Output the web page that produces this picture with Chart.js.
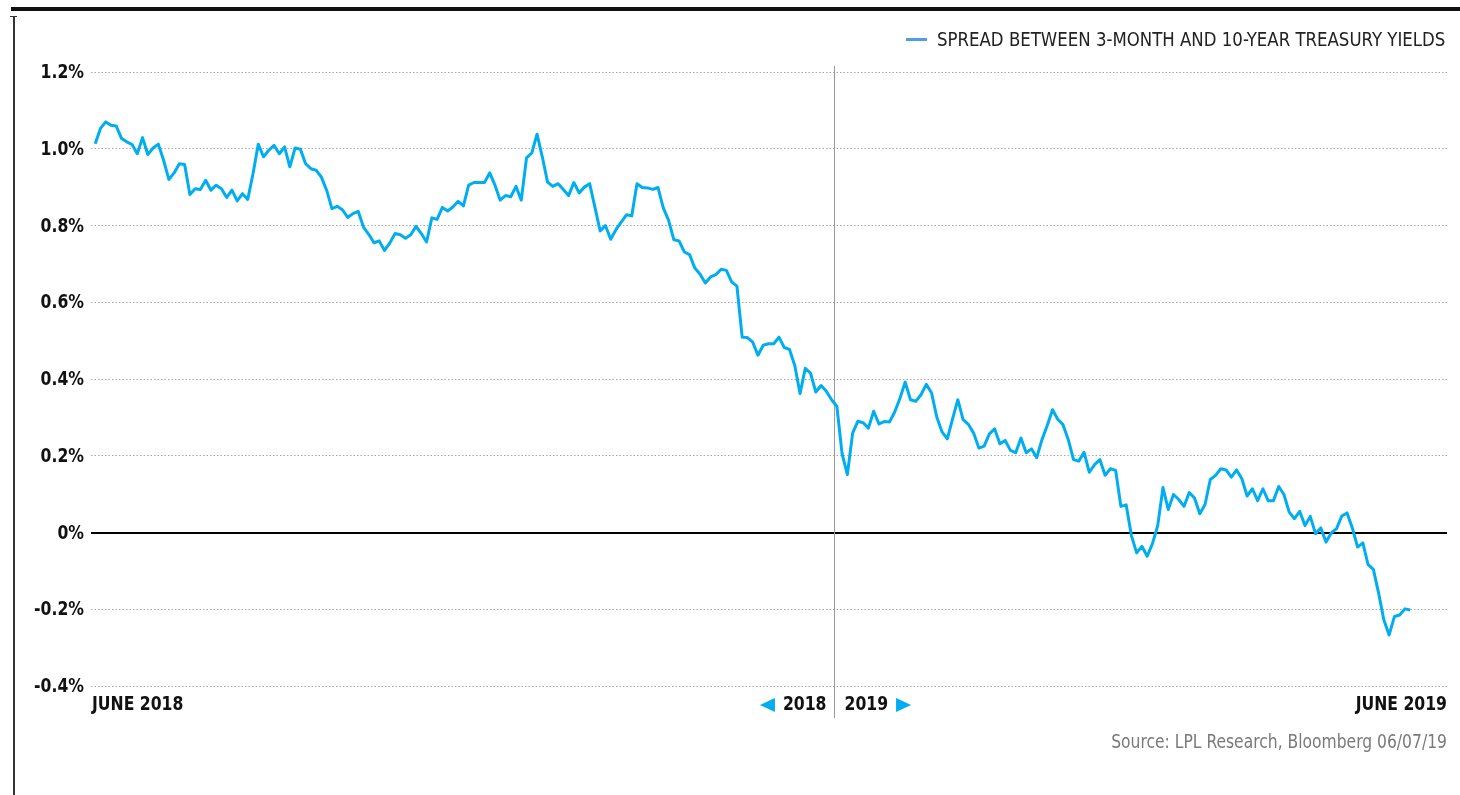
<!DOCTYPE html>
<html><head><meta charset="utf-8">
<script src="https://cdn.jsdelivr.net/npm/chart.js@4/dist/chart.umd.min.js"></script>
<style>
html,body{margin:0;padding:0;background:#fff;width:1460px;height:795px;overflow:hidden;}
canvas{position:absolute;left:0;top:0;}
.topbar{position:absolute;left:11px;top:7px;width:1449px;height:4px;background:#111;}
.vline{position:absolute;left:13px;top:16px;width:1.5px;height:779px;background:#333;}
.vcap{position:absolute;left:10px;top:16px;width:7px;height:1px;background:#333;}
.sw{position:absolute;left:906px;top:38px;width:21px;height:2.5px;background:#4f9fdc;}
.legtxt{position:absolute;left:937px;top:28px;white-space:nowrap;line-height:22px;
  font-family:'Liberation Sans Narrow','Arial Narrow','DejaVu Sans Condensed',sans-serif;font-size:19px;color:#222;
  transform:scaleX(0.97);transform-origin:left center;}
.source{position:absolute;right:13px;top:730px;white-space:nowrap;
  font-family:'Liberation Sans Narrow','Arial Narrow','DejaVu Sans Condensed',sans-serif;font-size:19px;color:#7a7a7a;
  transform:scaleX(0.91);transform-origin:right center;}
</style></head>
<body>
<div class="topbar"></div><div class="vline"></div><div class="vcap"></div>
<canvas id="c" width="1460" height="795"></canvas>
<div class="sw"></div><div class="legtxt" id="legtxt"></div>
<div class="source">Source: LPL Research, Bloomberg 06/07/19</div>
<script>
// Spread (%) between 3-month and 10-year Treasury yields, daily, June 2018 - June 7 2019
const spread2018 = [
 1.013,1.053,1.070,1.061,1.059,1.027,1.018,1.011,0.987,1.029,0.985,1.002,1.012,0.970,0.920,0.937,0.961,0.959,0.881,0.896,
 0.894,0.918,0.892,0.905,0.896,0.873,0.892,0.864,0.883,0.868,0.935,1.012,0.979,0.996,1.009,0.987,1.005,0.953,1.002,0.999,
 0.961,0.948,0.944,0.926,0.892,0.844,0.850,0.841,0.821,0.831,0.837,0.796,0.777,0.755,0.760,0.735,
 0.754,0.779,0.776,0.767,0.776,0.798,0.779,0.757,0.820,0.816,0.847,0.838,0.848,0.863,0.851,0.905,0.912,0.912,0.912,0.937,
 0.905,0.866,0.878,0.875,0.902,0.866,0.976,0.989,1.038,0.979,0.913,0.902,0.909,0.894,0.878,0.912,0.885,0.900,0.909,0.848,
 0.786,0.800,0.764,0.789,0.809,0.828,0.825,0.909,0.899,0.898,0.894,0.899,0.846,0.814,0.763,0.760,
 0.731,0.724,0.689,0.673,0.650,0.666,0.672,0.686,0.683,0.653,0.642,0.509,0.508,0.496,0.462,0.488,0.492,0.492,0.509,0.482,
 0.477,0.435,0.362,0.428,0.415,0.366,0.383,0.368,0.346
];
const spread2019 = [
 0.329,0.205,0.151,0.259,0.290,
 0.286,0.272,0.316,0.283,0.289,0.288,0.314,0.350,0.392,0.346,0.342,0.359,0.386,0.364,0.301,0.262,0.244,0.296,0.346,0.294,
 0.282,0.259,0.220,0.225,0.257,0.270,0.231,0.240,0.214,0.208,0.246,0.208,0.218,0.195,0.242,0.279,0.320,0.295,0.281,0.242,
 0.190,0.186,0.209,0.157,0.177,0.190,
 0.149,0.166,0.162,0.068,0.072,-0.008,-0.053,-0.036,-0.062,-0.029,0.018,0.117,0.060,0.099,0.086,0.068,0.104,0.090,0.049,0.073,
 0.138,0.149,0.166,0.163,0.144,0.163,0.140,0.095,0.114,0.083,0.114,0.083,0.083,0.120,0.099,0.053,0.036,0.055,0.018,0.042,
 -0.003,0.012,-0.025,-0.001,0.010,0.043,0.051,0.012,-0.038,-0.027,-0.084,-0.096,-0.158,-0.228,-0.267,-0.219,-0.215,-0.199,-0.202
];
const seriesName = 'SPREAD BETWEEN 3-MONTH AND 10-YEAR TREASURY YIELDS';
const yTicks = [-0.4,-0.2,0,0.2,0.4,0.6,0.8,1.0,1.2];
const startLabel = 'JUNE 2018';
const endLabel = 'JUNE 2019';
const yearLeft = '2018';
const yearRight = '2019';

document.getElementById('legtxt').textContent = seriesName;

const values = spread2018.concat(spread2019);
const points = values.map((v,i)=>({x:i,y:v}));
const yearBoundary = spread2018.length - 0.5;

const FONT = "'Liberation Sans Narrow','Arial Narrow','DejaVu Sans Condensed',sans-serif";
const CYAN = '#00aeef';
const SX = 0.87; // horizontal condensing of the bold labels

function fmtTick(v){
  const r = Math.round(v*10)/10;
  return (r === 0 ? '0' : r.toFixed(1)) + '%';
}
function drawText(ctx, text, x, y, align){
  ctx.save();
  ctx.translate(x, y);
  ctx.scale(SX, 1);
  ctx.textAlign = align;
  ctx.fillText(text, 0, 0);
  ctx.restore();
  return ctx.measureText(text).width * SX;
}

const overlay = {
  id:'overlay',
  beforeDatasetsDraw(chart){
    const {ctx, chartArea:a, scales:{x,y}} = chart;
    ctx.save();
    const y0 = Math.round(y.getPixelForValue(0));
    ctx.strokeStyle='#000'; ctx.lineWidth=2;
    ctx.beginPath(); ctx.moveTo(a.left,y0); ctx.lineTo(a.right,y0); ctx.stroke();
    const xd = Math.round(x.getPixelForValue(yearBoundary))+0.5;
    ctx.strokeStyle='#9a9a9a'; ctx.lineWidth=1;
    ctx.beginPath(); ctx.moveTo(xd,a.top-6); ctx.lineTo(xd,a.bottom+32); ctx.stroke();
    ctx.restore();
  },
  afterDraw(chart){
    const {ctx, chartArea:a, scales:{x,y}} = chart;
    ctx.save();
    ctx.font = "bold 20px " + FONT;
    ctx.fillStyle = '#111';
    ctx.textBaseline = 'middle';
    y.ticks.forEach(t=>{
      drawText(ctx, fmtTick(t.value), a.left-7, y.getPixelForValue(t.value)+1, 'right');
    });
    const xd = Math.round(x.getPixelForValue(yearBoundary))+0.5;
    const ly = a.bottom + 19;
    drawText(ctx, startLabel, a.left+1, ly, 'left');
    drawText(ctx, endLabel, a.right, ly, 'right');
    const w1 = drawText(ctx, yearLeft, xd-8, ly, 'right');
    const t1r = xd-8-w1-8;
    ctx.fillStyle = CYAN;
    ctx.beginPath(); ctx.moveTo(t1r, ly-7); ctx.lineTo(t1r, ly+7); ctx.lineTo(t1r-15, ly); ctx.closePath(); ctx.fill();
    ctx.fillStyle = '#111';
    const w2 = drawText(ctx, yearRight, xd+10, ly, 'left');
    const t2l = xd+10+w2+8;
    ctx.fillStyle = CYAN;
    ctx.beginPath(); ctx.moveTo(t2l, ly-7); ctx.lineTo(t2l, ly+7); ctx.lineTo(t2l+15, ly); ctx.closePath(); ctx.fill();
    ctx.restore();
  }
};

new Chart(document.getElementById('c'), {
  type:'line',
  data:{datasets:[{label:seriesName, data:points, borderColor:CYAN, borderWidth:3,
    pointRadius:0, tension:0, fill:false, borderJoinStyle:'round'}]},
  options:{
    responsive:false, devicePixelRatio:1, animation:false,
    layout:{padding:{left:0,right:13,top:72,bottom:109}},
    plugins:{legend:{display:false}, tooltip:{enabled:false}},
    scales:{
      x:{type:'linear', display:false, min:-0.8, max:257},
      y:{min:-0.4, max:1.2,
        afterFit(s){ s.width = 91; },
        afterBuildTicks(s){ s.ticks = yTicks.map(v=>({value:v})); },
        ticks:{display:false},
        grid:{drawTicks:false, color:'#a9a9a9', lineWidth:1},
        border:{display:false, dash:[1.5,2]}
      }
    }
  },
  plugins:[overlay]
});
</script>
</body></html>
